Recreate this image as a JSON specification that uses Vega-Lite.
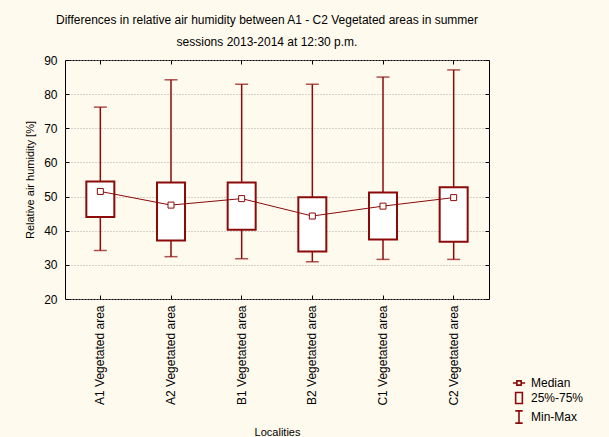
{
  "$schema": "https://vega.github.io/schema/vega-lite/v6.json",
  "autosize": "none",
  "width": 424,
  "height": 239,
  "padding": {"left": 65, "top": 60, "right": 120, "bottom": 138},
  "background": "#FFFAEE",
  "title": {
    "text": ["Differences in relative air humidity between A1 - C2 Vegetated areas in summer", "sessions 2013-2014 at 12:30 p.m."],
    "anchor": "middle",
    "dx": -10,
    "offset": 5,
    "font": "Liberation Sans",
    "fontSize": 12,
    "fontWeight": "normal",
    "lineHeight": 22,
    "color": "#000000"
  },
  "config": {
    "view": {"fill": "#FFFFFF", "stroke": "#000000", "strokeWidth": 1},
    "font": "Liberation Sans",
    "axis": {"labelFont": "Liberation Sans", "titleFont": "Liberation Sans", "labelColor": "#000", "titleColor": "#000", "tickColor": "#000", "domain": false, "titleFontWeight": "normal"}
  },
  "data": {
    "values": [
      {"loc": "A1 Vegetated area", "min": 34.2, "q1": 44.0, "med": 51.5, "q3": 54.4, "max": 76.2},
      {"loc": "A2 Vegetated area", "min": 32.4, "q1": 37.1, "med": 47.5, "q3": 54.1, "max": 84.2},
      {"loc": "B1 Vegetated area", "min": 31.8, "q1": 40.3, "med": 49.4, "q3": 54.1, "max": 82.9},
      {"loc": "B2 Vegetated area", "min": 30.9, "q1": 33.9, "med": 44.3, "q3": 49.8, "max": 82.9},
      {"loc": "C1 Vegetated area", "min": 31.6, "q1": 37.4, "med": 47.2, "q3": 51.2, "max": 85.0},
      {"loc": "C2 Vegetated area", "min": 31.6, "q1": 36.8, "med": 49.7, "q3": 52.7, "max": 87.1}
    ]
  },
  "resolve": {"axis": {"x": "independent", "y": "independent"}},
  "layer": [
    {
      "mark": {"type": "rule", "color": "#8B0A0A", "strokeWidth": 1.5},
      "encoding": {
        "x": {"field": "loc", "type": "nominal", "sort": null,
          "scale": {"type": "band", "paddingInner": 0, "paddingOuter": 0},
          "axis": {"orient": "bottom", "title": "Localities", "labelAngle": -90, "labelFontSize": 12, "titleFontSize": 11, "titlePadding": 21, "tickSize": -4, "labelPadding": 10, "grid": false}},
        "y": {"field": "min", "type": "quantitative",
          "scale": {"domain": [20, 90], "nice": false, "zero": false},
          "axis": {"orient": "left", "title": "Relative air humidity [%]", "values": [20, 30, 40, 50, 60, 70, 80, 90], "labelFontSize": 12, "titleFontSize": 11, "titlePadding": 8, "tickSize": -4, "labelPadding": 12, "grid": true, "gridColor": "#AAAAAA", "gridDash": [1, 2], "gridWidth": 1}},
        "y2": {"field": "max"}
      }
    },
    {
      "mark": {"type": "tick", "color": "#8B0A0A", "thickness": 1.5, "size": 13},
      "encoding": {
        "x": {"field": "loc", "type": "nominal", "sort": null,
          "axis": {"orient": "top", "labels": false, "title": null, "tickSize": -4, "grid": false}},
        "y": {"field": "min", "type": "quantitative",
          "axis": {"orient": "right", "labels": false, "title": null, "values": [20, 30, 40, 50, 60, 70, 80, 90], "tickSize": -4, "grid": false}}
      }
    },
    {
      "mark": {"type": "tick", "color": "#8B0A0A", "thickness": 1.5, "size": 13},
      "encoding": {
        "x": {"field": "loc", "type": "nominal", "sort": null, "axis": null},
        "y": {"field": "max", "type": "quantitative", "axis": null}
      }
    },
    {
      "mark": {"type": "bar", "fill": "#FFFFFF", "stroke": "#8B0A0A", "strokeWidth": 2, "size": 28},
      "encoding": {
        "x": {"field": "loc", "type": "nominal", "sort": null, "axis": null},
        "y": {"field": "q1", "type": "quantitative", "axis": null},
        "y2": {"field": "q3"}
      }
    },
    {
      "mark": {"type": "line", "color": "#8B0A0A", "strokeWidth": 1},
      "encoding": {
        "x": {"field": "loc", "type": "nominal", "sort": null, "axis": null},
        "y": {"field": "med", "type": "quantitative", "axis": null}
      }
    },
    {
      "mark": {"type": "point", "shape": "square", "filled": true, "fill": "#FFFFFF", "stroke": "#8B0A0A", "strokeWidth": 1, "size": 36, "opacity": 1},
      "encoding": {
        "x": {"field": "loc", "type": "nominal", "sort": null, "axis": null},
        "y": {"field": "med", "type": "quantitative", "axis": null}
      }
    },
    {
      "data": {"values": [{"leg": "Median"}, {"leg": "25%-75%"}, {"leg": "Min-Max"}]},
      "mark": {"type": "point", "opacity": 0},
      "encoding": {
        "shape": {
          "field": "leg", "type": "nominal",
          "scale": {
            "domain": ["Median", "25%-75%", "Min-Max"],
            "range": [
              "M-1,0H-0.35M0.35,0H1M-0.35,-0.35H0.35V0.35H-0.35Z",
              "M-0.55,-0.9H0.55V0.9H-0.55Z",
              "M-0.6,-1H0.6M0,-1V1M-0.6,1H0.6"
            ]
          },
          "legend": {
            "title": null,
            "orient": "none",
            "legendX": 447,
            "legendY": 316,
            "symbolSize": 150,
            "symbolStrokeColor": "#8B0A0A",
            "symbolFillColor": "#FFFFFF",
            "symbolStrokeWidth": 1.6,
            "symbolOpacity": 1,
            "labelFont": "Liberation Sans",
            "labelFontSize": 12,
            "labelColor": "#000000",
            "labelOffset": 5,
            "rowPadding": 0
          }
        }
      }
    }
  ]
}
